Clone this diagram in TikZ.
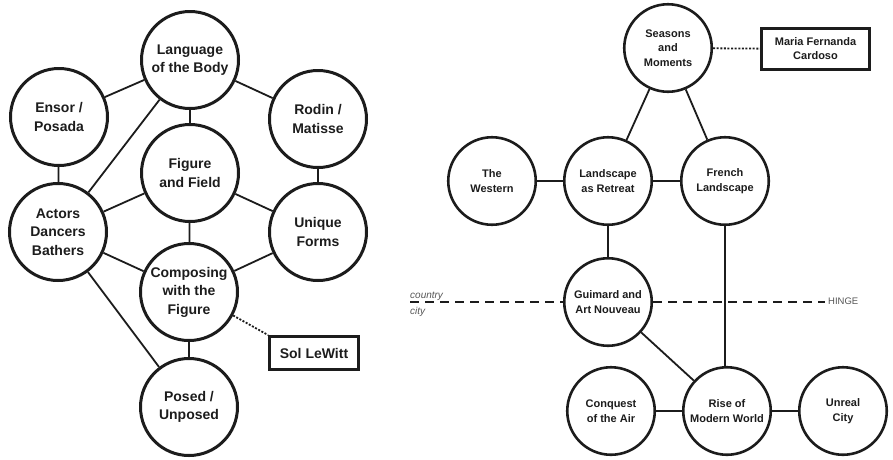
\documentclass[tikz,border=0pt]{standalone}
\usepackage{fontspec}
\setmainfont{Liberation Sans}
\definecolor{ink}{HTML}{1C1C1C}
\definecolor{soft}{HTML}{555555}
\begin{document}
\begin{tikzpicture}[x=1pt,y=-1pt,
  bigc/.style={circle, draw=ink, line width=3pt, minimum size=97pt, inner sep=0pt, align=center, text=ink, font=\bfseries\fontsize{14}{18.5}\selectfont},
  smallc/.style={circle, draw=ink, line width=2.6pt, minimum size=87.5pt, inner sep=0pt, align=center, text=ink, font=\bfseries\fontsize{11}{14.5}\selectfont},
  link/.style={draw=ink, line width=1.8pt},
  dotlink/.style={draw=ink, line width=1.8pt, dash pattern=on 2pt off 1.6pt},
  hinge/.style={draw=ink, line width=2pt, dash pattern=on 9pt off 6pt},
  namebox/.style={rectangle, draw=ink, line width=3pt, inner sep=0pt, align=center, text=ink},
  note/.style={inner sep=0pt, text=soft}
]
\useasboundingbox (0,0) rectangle (893,459);

% ---------- left diagram ----------
\node[bigc] (lang)   at (190,60)  {Language\\of the Body};
\node[bigc] (ensor)  at (59,117)  {Ensor /\\Posada};
\node[bigc] (rodin)  at (318,119) {Rodin /\\Matisse};
\node[bigc] (field)  at (190,173) {Figure\\and Field};
\node[bigc] (actors) at (58,232)  {Actors\\Dancers\\Bathers};
\node[bigc] (unique) at (318,232) {Unique\\Forms};
\node[bigc] (comp)   at (189,292) {Composing\\with the\\Figure};
\node[bigc] (posed)  at (189,407) {Posed /\\Unposed};
\node[namebox, minimum width=89pt, minimum height=33pt, font=\bfseries\fontsize{14}{17}\selectfont] (sol) at (314,353) {Sol LeWitt};

\draw[link] (lang) -- (ensor);
\draw[link] (lang) -- (rodin);
\draw[link] (lang) -- (field);
\draw[link] (lang) -- (actors);
\draw[link] (ensor) -- (actors);
\draw[link] (rodin) -- (unique);
\draw[link] (field) -- (actors);
\draw[link] (field) -- (unique);
\draw[link] (field) -- (comp);
\draw[link] (actors) -- (comp);
\draw[link] (unique) -- (comp);
\draw[link] (actors) -- (posed);
\draw[link] (comp) -- (posed);
\draw[dotlink] (comp.-28) -- (sol.north west);

% ---------- right diagram ----------
\node[smallc] (seasons)  at (668,48)  {Seasons\\and\\Moments};
\node[namebox, minimum width=108pt, minimum height=41pt, font=\bfseries\fontsize{11}{14}\selectfont] (maria) at (815.5,49) {Maria Fernanda\\Cardoso};
\node[smallc] (western)  at (492,181) {The\\Western};
\node[smallc] (retreat)  at (608,181) {Landscape\\as Retreat};
\node[smallc] (french)   at (725,181) {French\\Landscape};
\node[smallc] (guimard)  at (608,302) {Guimard and\\Art Nouveau};
\node[smallc] (conquest) at (611,411) {Conquest\\of the Air};
\node[smallc] (rise)     at (727,411) {Rise of\\Modern World};
\node[smallc] (unreal)   at (843,411) {Unreal\\City};

\draw[dotlink] (seasons) -- (maria);
\draw[link] (seasons) -- (retreat);
\draw[link] (seasons) -- (french);
\draw[link] (western) -- (retreat);
\draw[link] (retreat) -- (french);
\draw[link] (retreat) -- (guimard);
\draw[link] (french.south) -- (rise.north -| french.south);
\draw[link] (guimard) -- (rise);
\draw[link] (conquest) -- (rise);
\draw[link] (rise) -- (unreal);

% hinge line
\coordinate (hl) at (410,302);
\coordinate (hr) at (825,302);
\draw[hinge] (hl) -- (guimard.west);
\draw[hinge] (guimard.east) -- (hr);
\node[note, anchor=west, font=\fontsize{9.5}{11}\selectfont] (hingetxt) at (828,301) {HINGE};
\node[note, anchor=base west, font=\itshape\fontsize{10}{12}\selectfont] (country) at (410,298) {country};
\node[note, anchor=base west, font=\itshape\fontsize{10}{12}\selectfont] (city) at (410,314) {city};
\end{tikzpicture}
\end{document}
